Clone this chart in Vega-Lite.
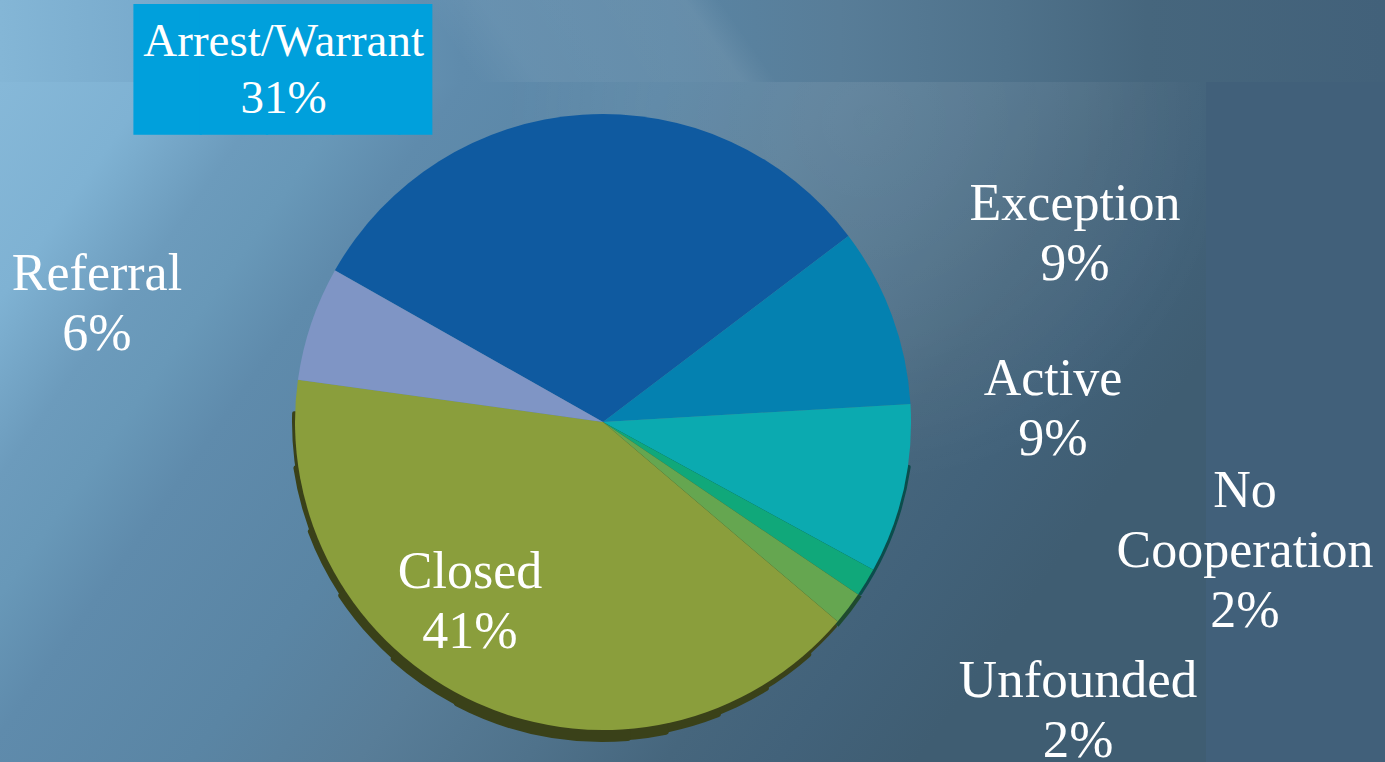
{
  "$schema": "https://vega.github.io/schema/vega-lite/v6.json",
  "background": "#41607A",
  "padding": 0,
  "spacing": 0,
  "bounds": "flush",
  "config": {"view": {"stroke": null}, "concat": {"spacing": 0}},
  "datasets": {
    "cases": [
      {"cat": "Arrest/Warrant", "pct": 31.5, "label": "Arrest/Warrant\n31%", "ord": 1},
      {"cat": "Exception", "pct": 9.4, "label": "Exception\n9%", "ord": 2},
      {"cat": "Active", "pct": 8.9, "label": "Active\n9%", "ord": 3},
      {"cat": "No Cooperation", "pct": 1.5, "label": "No\nCooperation\n2%", "ord": 4},
      {"cat": "Unfounded", "pct": 1.75, "label": "Unfounded\n2%", "ord": 5},
      {"cat": "Closed", "pct": 41.0, "label": "Closed\n41%", "ord": 6},
      {"cat": "Referral", "pct": 6.0, "label": "Referral\n6%", "ord": 7}
    ]
  },
  "vconcat": [
    {
      "width": 1385,
      "height": 82,
      "data": {"name": "cases"},
      "transform": [{"filter": "datum.cat === 'Closed'"}],
      "view": {
        "stroke": null,
        "fill": {
          "gradient": "linear", "x1": 0, "y1": 0, "x2": 1, "y2": 0,
          "stops": [
            {"offset": 0, "color": "#84B6D6"},
            {"offset": 0.111, "color": "#78AACC"},
            {"offset": 0.202, "color": "#6A99BB"},
            {"offset": 0.263, "color": "#6797B7"},
            {"offset": 0.333, "color": "#5F8BAC"},
            {"offset": 0.485, "color": "#5A85A4"},
            {"offset": 0.606, "color": "#587D98"},
            {"offset": 0.727, "color": "#4F728B"},
            {"offset": 0.828, "color": "#46667D"},
            {"offset": 1, "color": "#42617A"}
          ]
        }
      },
      "mark": {
        "type": "rect",
        "fill": {
          "gradient": "linear", "x1": 0, "y1": 1, "x2": 1.0397, "y2": 0.9569,
          "stops": [
            {"offset": 0, "color": "rgba(255,255,255,0)"},
            {"offset": 0.331, "color": "rgba(255,255,255,0)"},
            {"offset": 0.3726, "color": "rgba(255,255,255,0.06)"},
            {"offset": 0.4558, "color": "rgba(255,255,255,0.07)"},
            {"offset": 0.5147, "color": "rgba(255,255,255,0.08)"},
            {"offset": 0.5286, "color": "rgba(255,255,255,0.03)"},
            {"offset": 0.539, "color": "rgba(255,255,255,0)"},
            {"offset": 1, "color": "rgba(255,255,255,0)"}
          ]
        }
      },
      "encoding": {}
    },
    {
      "spacing": 0,
      "bounds": "flush",
      "hconcat": [
        {
          "width": 1206,
          "height": 680,
          "data": {"name": "cases"},
          "transform": [
            {"stack": "pct", "groupby": [], "sort": [{"field": "ord", "order": "ascending"}], "as": ["s0", "s1"]}
          ],
          "view": {
            "stroke": null,
            "fill": {
              "gradient": "linear", "x1": 0, "y1": 0, "x2": 1, "y2": 0.4,
              "stops": [
                {"offset": 0, "color": "#86B8D8"},
                {"offset": 0.11, "color": "#7FB2D3"},
                {"offset": 0.2, "color": "#6C9BBC"},
                {"offset": 0.26, "color": "#6898B8"},
                {"offset": 0.33, "color": "#5F8BAC"},
                {"offset": 0.48, "color": "#5A85A4"},
                {"offset": 0.6, "color": "#587D98"},
                {"offset": 0.72, "color": "#4F728B"},
                {"offset": 0.82, "color": "#46667D"},
                {"offset": 0.9, "color": "#42627A"},
                {"offset": 1, "color": "#3F5D72"}
              ]
            }
          },
          "layer": [
            {
              "transform": [{"filter": "datum.cat === 'Closed'"}],
              "mark": {
                "type": "rect",
                "fill": {
                  "gradient": "radial", "x1": 0.72, "y1": 0.25, "r1": 0, "x2": 0.72, "y2": 0.25, "r2": 0.3,
                  "stops": [
                    {"offset": 0, "color": "rgba(255,255,255,0.08)"},
                    {"offset": 0.6, "color": "rgba(255,255,255,0.05)"},
                    {"offset": 1, "color": "rgba(255,255,255,0)"}
                  ]
                }
              },
              "encoding": {}
            },
            {"transform": [{"filter": "datum.cat === 'Closed'"}], "mark": {"type": "arc", "theta": 1.7104, "theta2": 2.1642, "radius": 311, "cornerRadius": 2, "color": "#0B4D4C"}, "encoding": {}},
            {"transform": [{"filter": "datum.cat === 'Closed'"}], "mark": {"type": "arc", "theta": 2.1642, "theta2": 2.2864, "radius": 312, "color": "#1F4A2E"}, "encoding": {}},
            {"transform": [{"filter": "datum.cat === 'Closed'"}], "mark": {"type": "arc", "theta": 2.2864, "theta2": 4.7473, "radius": 311, "cornerRadius": 2, "color": "#3A4119"}, "encoding": {}},
            {"transform": [{"filter": "datum.cat === 'Closed'"}], "mark": {"type": "arc", "theta": 2.4086, "theta2": 4.5728, "radius": 313, "cornerRadius": 3, "color": "#3A4119"}, "encoding": {}},
            {"transform": [{"filter": "datum.cat === 'Closed'"}], "mark": {"type": "arc", "theta": 2.5831, "theta2": 4.3633, "radius": 315, "cornerRadius": 3, "color": "#3A4119"}, "encoding": {}},
            {"transform": [{"filter": "datum.cat === 'Closed'"}], "mark": {"type": "arc", "theta": 2.7576, "theta2": 4.1364, "radius": 317, "cornerRadius": 3, "color": "#3A4119"}, "encoding": {}},
            {"transform": [{"filter": "datum.cat === 'Closed'"}], "mark": {"type": "arc", "theta": 2.9322, "theta2": 3.8746, "radius": 319, "cornerRadius": 3, "color": "#3A4119"}, "encoding": {}},
            {"transform": [{"filter": "datum.cat === 'Closed'"}], "mark": {"type": "arc", "theta": 3.0543, "theta2": 3.6303, "radius": 320, "cornerRadius": 3, "color": "#3A4119"}, "encoding": {}},
            {
              "mark": {"type": "arc", "radius": 308},
              "encoding": {
                "theta": {"field": "s0", "type": "quantitative", "scale": {"domain": [0, 100.05], "range": [-1.056, 5.227]}},
                "theta2": {"field": "s1"},
                "color": {
                  "field": "cat", "type": "nominal", "legend": null,
                  "scale": {
                    "domain": ["Arrest/Warrant", "Exception", "Active", "No Cooperation", "Unfounded", "Closed", "Referral"],
                    "range": ["#0F5AA0", "#0481B0", "#0BAAB0", "#10A87A", "#65A650", "#8A9E3C", "#7F95C5"]
                  }
                }
              }
            },
            {
              "transform": [{"filter": "datum.cat === 'Arrest/Warrant'"}],
              "mark": {"type": "text", "radius": 476.1, "thetaOffset": 0.3204, "font": "DejaVu Sans Mono", "fontSize": 110, "dx": 16.5, "dy": 5, "align": "center", "baseline": "middle", "color": "#00A0DC", "text": "████▌"},
              "encoding": {
                "theta": {"field": "s0", "type": "quantitative", "stack": null, "scale": {"domain": [0, 100.05], "range": [-1.056, 5.227]}}
              }
            },
            {
              "transform": [{"filter": "datum.cat === 'Arrest/Warrant'"}],
              "mark": {"type": "text", "radius": 474.8, "thetaOffset": 0.3183, "dy": -28.25, "font": "Liberation Serif", "fontSize": 47, "lineHeight": 56.5, "lineBreak": "\n", "align": "center", "baseline": "middle", "color": "#FFFFFF"},
              "encoding": {
                "theta": {"field": "s0", "type": "quantitative", "stack": null, "scale": {"domain": [0, 100.05], "range": [-1.056, 5.227]}},
                "text": {"field": "label"}
              }
            },
            {
              "transform": [{"filter": "datum.cat === 'Exception'"}],
              "mark": {"type": "text", "radius": 508.2, "thetaOffset": 0.2690, "dy": -30, "font": "Liberation Serif", "fontSize": 52, "lineHeight": 60, "lineBreak": "\n", "align": "center", "baseline": "middle", "color": "#FFFFFF"},
              "encoding": {
                "theta": {"field": "s0", "type": "quantitative", "stack": null, "scale": {"domain": [0, 100.05], "range": [-1.056, 5.227]}},
                "text": {"field": "label"}
              }
            },
            {
              "transform": [{"filter": "datum.cat === 'Active'"}],
              "mark": {"type": "text", "radius": 450.2, "thetaOffset": 0.0293, "dy": -30, "font": "Liberation Serif", "fontSize": 52, "lineHeight": 60, "lineBreak": "\n", "align": "center", "baseline": "middle", "color": "#FFFFFF"},
              "encoding": {
                "theta": {"field": "s0", "type": "quantitative", "stack": null, "scale": {"domain": [0, 100.05], "range": [-1.056, 5.227]}},
                "text": {"field": "label"}
              }
            },
            {
              "transform": [{"filter": "datum.cat === 'No Cooperation'"}],
              "mark": {"type": "text", "radius": 654.9, "thetaOffset": -0.3018, "dy": -60, "font": "Liberation Serif", "fontSize": 52, "lineHeight": 60, "lineBreak": "\n", "align": "center", "baseline": "middle", "color": "#FFFFFF"},
              "encoding": {
                "theta": {"field": "s0", "type": "quantitative", "stack": null, "scale": {"domain": [0, 100.05], "range": [-1.056, 5.227]}},
                "text": {"field": "label"}
              }
            },
            {
              "transform": [{"filter": "datum.cat === 'Unfounded'"}],
              "mark": {"type": "text", "radius": 556.3, "thetaOffset": -0.0476, "dy": -30, "font": "Liberation Serif", "fontSize": 53, "lineHeight": 60, "lineBreak": "\n", "align": "center", "baseline": "middle", "color": "#FFFFFF"},
              "encoding": {
                "theta": {"field": "s0", "type": "quantitative", "stack": null, "scale": {"domain": [0, 100.05], "range": [-1.056, 5.227]}},
                "text": {"field": "label"}
              }
            },
            {
              "transform": [{"filter": "datum.cat === 'Closed'"}],
              "mark": {"type": "text", "radius": 223.8, "thetaOffset": 1.5024, "dy": -30, "font": "Liberation Serif", "fontSize": 52, "lineHeight": 60, "lineBreak": "\n", "align": "center", "baseline": "middle", "color": "#FFFFFF"},
              "encoding": {
                "theta": {"field": "s0", "type": "quantitative", "stack": null, "scale": {"domain": [0, 100.05], "range": [-1.056, 5.227]}},
                "text": {"field": "label"}
              }
            },
            {
              "transform": [{"filter": "datum.cat === 'Referral'"}],
              "mark": {"type": "text", "radius": 519.6, "thetaOffset": 0.0911, "dy": -30, "font": "Liberation Serif", "fontSize": 52, "lineHeight": 60, "lineBreak": "\n", "align": "center", "baseline": "middle", "color": "#FFFFFF"},
              "encoding": {
                "theta": {"field": "s0", "type": "quantitative", "stack": null, "scale": {"domain": [0, 100.05], "range": [-1.056, 5.227]}},
                "text": {"field": "label"}
              }
            }
          ]
        },
        {
          "width": 179,
          "height": 680,
          "data": {"values": []},
          "view": {"stroke": null, "fill": null},
          "mark": {"type": "text"},
          "encoding": {}
        }
      ]
    }
  ]
}
